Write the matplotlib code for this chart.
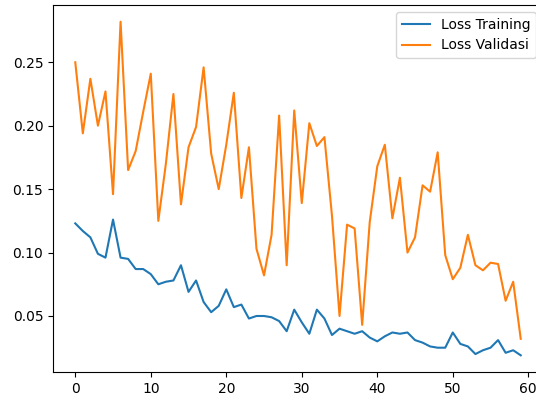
import matplotlib
matplotlib.use("Agg")
import matplotlib.pyplot as plt

# loss per epoch
epochs = list(range(60))

loss_training = [
    0.123, 0.117, 0.112, 0.099, 0.096, 0.126, 0.096, 0.095, 0.087, 0.087,
    0.083, 0.075, 0.077, 0.078, 0.090, 0.069, 0.078, 0.061, 0.053, 0.058,
    0.071, 0.057, 0.059, 0.048, 0.050, 0.050, 0.049, 0.046, 0.038, 0.055,
    0.045, 0.036, 0.055, 0.048, 0.035, 0.040, 0.038, 0.036, 0.038, 0.033,
    0.030, 0.034, 0.037, 0.036, 0.037, 0.031, 0.029, 0.026, 0.025, 0.025,
    0.037, 0.028, 0.026, 0.020, 0.023, 0.025, 0.031, 0.021, 0.023, 0.019,
]

loss_validasi = [
    0.250, 0.194, 0.237, 0.200, 0.227, 0.146, 0.282, 0.165, 0.180, 0.211,
    0.241, 0.125, 0.170, 0.225, 0.138, 0.183, 0.199, 0.246, 0.178, 0.150,
    0.185, 0.226, 0.143, 0.183, 0.103, 0.082, 0.114, 0.208, 0.090, 0.212,
    0.139, 0.202, 0.184, 0.191, 0.129, 0.050, 0.122, 0.119, 0.043, 0.124,
    0.168, 0.185, 0.127, 0.159, 0.100, 0.112, 0.153, 0.148, 0.179, 0.098,
    0.079, 0.088, 0.114, 0.090, 0.086, 0.092, 0.091, 0.062, 0.077, 0.032,
]

fig = plt.figure(figsize=(5.36, 3.98), dpi=100)
# the reference is a cropped screenshot: the right spine sits past the edge
ax = fig.add_axes([53 / 536, 26 / 398, 490 / 536, 367 / 398])

ax.plot(epochs, loss_training, label="Loss Training")
ax.plot(epochs, loss_validasi, label="Loss Validasi")
ax.legend(loc="upper right")

fig.savefig("out.png", dpi=100)
